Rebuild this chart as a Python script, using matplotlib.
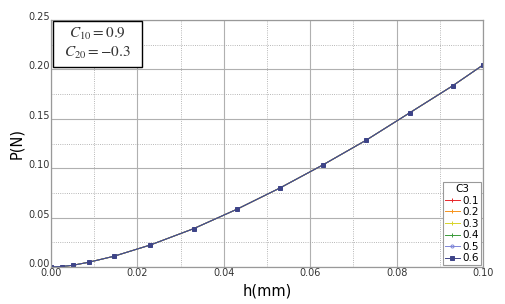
import numpy as np
import matplotlib.pyplot as plt
from matplotlib.ticker import MultipleLocator
from matplotlib.patches import Rectangle

# all six C3 curves sit on top of each other
h = [0.0, 0.0025, 0.005, 0.0087, 0.0145, 0.023, 0.033, 0.043, 0.053, 0.063, 0.073, 0.083, 0.093, 0.1]
P = [0.0, 0.0005, 0.0017, 0.0048, 0.0108, 0.0223, 0.0388, 0.0584, 0.080, 0.1035, 0.1285, 0.156, 0.1835, 0.2045]
c3 = ['0.1', '0.2', '0.3', '0.4', '0.5', '0.6']
colors = ['#e8262a', '#f7941d', '#d8d42a', '#3a9a3a', '#7f86d8', '#3e4488']
markers = ['+', '+', '+', '+', 'o', 's']

plt.rcParams['mathtext.fontset'] = 'stix'

fig = plt.figure(figsize=(5.06, 3.04), dpi=100)
ax = fig.add_axes([0.1008, 0.1217, 0.8537, 0.8123])

for lab, col, mk in zip(c3, colors, markers):
    fill = 'none' if mk == 'o' else col
    ax.plot(h, P, color=col, lw=0.7, marker=mk, ms=2.2, mfc=fill, mec=col, mew=0.7, label=lab)

ax.set_xlim(0, 0.1)
ax.set_ylim(0, 0.25)
ax.xaxis.set_major_locator(MultipleLocator(0.02))
ax.xaxis.set_minor_locator(MultipleLocator(0.01))
ax.yaxis.set_major_locator(MultipleLocator(0.05))
ax.yaxis.set_minor_locator(MultipleLocator(0.025))
ax.xaxis.set_major_formatter(plt.FormatStrFormatter('%.2f'))
ax.yaxis.set_major_formatter(plt.FormatStrFormatter('%.2f'))
ax.grid(which='major', color='#b0b0b0', lw=0.8, ls='-')
ax.grid(which='minor', color='#a0a0a0', lw=0.6, ls=':')
ax.set_axisbelow(True)
ax.tick_params(which='both', length=0, labelsize=7, pad=1, colors='#333333')
for lbl in ax.get_yticklabels():
    lbl.set_verticalalignment('baseline')
for s in ax.spines.values():
    s.set_color('#999999')
    s.set_linewidth(0.9)

ax.set_xlabel('h(mm)', fontsize=10.5, labelpad=4)
ax.set_ylabel('P(N)', fontsize=10.5, labelpad=3)

# parameter box in the top-left corner
ax.add_patch(Rectangle((0.0005, 0.2024), 0.0206, 0.0466, fc='white', ec='black', lw=1.0, zorder=5))
ax.text(0.0108, 0.2262, '$C_{10}=0.9$\n$C_{20}=-0.3$', fontsize=11,
        ha='center', va='center', linespacing=1.25, color='#333333', zorder=6)

leg = ax.legend(title='C3', loc='lower right', fontsize=7.5, title_fontsize=7.5,
                fancybox=False, framealpha=1, edgecolor='#999999',
                borderpad=0.2, labelspacing=0.15, handlelength=1.4, handletextpad=0.3,
                borderaxespad=0.15)
leg.get_frame().set_linewidth(0.8)

fig.savefig('out.png', dpi=100)
